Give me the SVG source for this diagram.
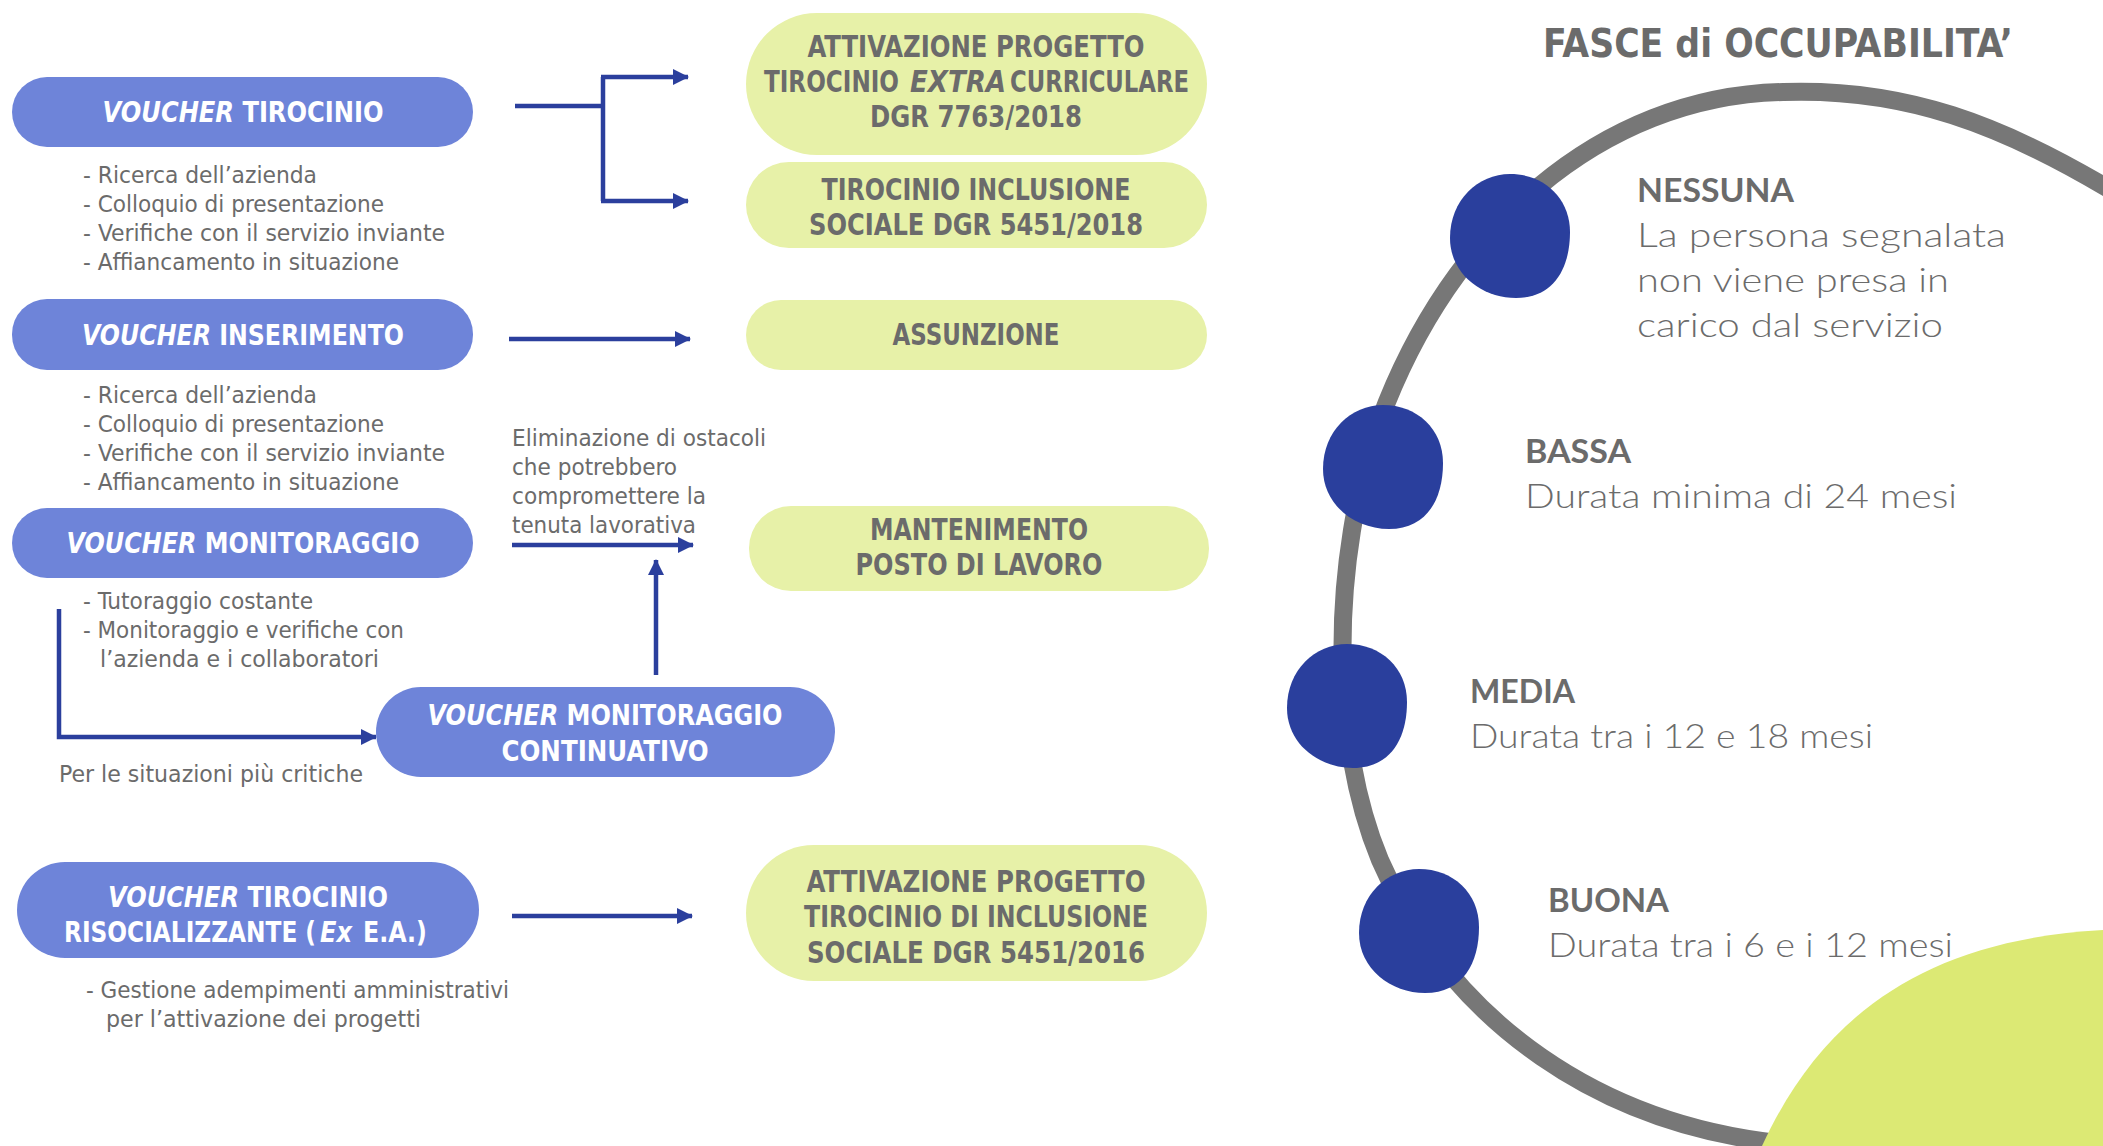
<svg xmlns="http://www.w3.org/2000/svg" width="2103" height="1146" viewBox="0 0 2103 1146">
<style>
.bp{fill:#6E84D9}
.gp{fill:#E7F1A8}
.wt{fill:#FFFFFF;font-family:"DejaVu Sans Condensed","DejaVu Sans",sans-serif;font-weight:bold;font-size:29px;text-anchor:middle}
.ws{fill:#FFFFFF;font-family:"DejaVu Sans Condensed","DejaVu Sans",sans-serif;font-weight:bold;font-size:29px}
.gt{fill:#6B6B6B;font-family:"DejaVu Sans Condensed","DejaVu Sans",sans-serif;font-weight:bold;font-size:30px;text-anchor:middle}
.gs{fill:#6B6B6B;font-family:"DejaVu Sans Condensed","DejaVu Sans",sans-serif;font-weight:bold;font-size:30px}
.it{font-style:italic}
.bl{fill:#6B6B6B;font-family:"DejaVu Sans Condensed","DejaVu Sans",sans-serif;font-size:23px}
.conn{fill:none;stroke:#2B3F9D;stroke-width:4.5}
.hd{fill:#6B6B6B;font-family:Lato,"Open Sans",sans-serif;font-weight:bold;font-size:32px}
.ds{fill:#6B6B6B;font-family:Lato,"Open Sans",sans-serif;font-weight:300;font-size:33px}
.dot{fill:#2A3F9D}
</style>
<defs>
<marker id="ah" markerUnits="userSpaceOnUse" markerWidth="16" markerHeight="16" refX="15" refY="8" orient="auto">
<path d="M0,0 L16,8 L0,16 Z" fill="#2B3F9D"/>
</marker>
<path id="blob" d="M0,-62 C34,-62 60,-38 60,-4 C60,32 44,62 6,62 C-28,62 -60,38 -60,2 C-60,-36 -32,-62 0,-62 Z"/>
</defs>
<rect width="2103" height="1146" fill="#FFFFFF"/>

<g id="arc">
<path d="M2135 205 C2000 120,1900 88,1783 92 C1600 96,1450 230,1380 420 C1330 560,1330 740,1380 860 C1450 1020,1600 1130,1800 1145" fill="none" stroke="#777777" stroke-width="18"/>
<path d="M1762 1146 C1820 1020,1920 940,2103 930 L2103 1146 Z" fill="#DCE974"/>
</g>

<text id="title" x="1543" y="57" class="gs" style="font-size:39px" textLength="470" lengthAdjust="spacingAndGlyphs">FASCE di OCCUPABILITA’</text>

<g id="nessuna">
<use href="#blob" transform="translate(1510,236)" class="dot"/>
<text x="1637" y="202" class="hd" textLength="157" lengthAdjust="spacingAndGlyphs">NESSUNA</text>
<text x="1637" y="247" class="ds" textLength="369" lengthAdjust="spacingAndGlyphs">La persona segnalata</text>
<text x="1637" y="292" class="ds" textLength="312" lengthAdjust="spacingAndGlyphs">non viene presa in</text>
<text x="1637" y="337" class="ds" textLength="306" lengthAdjust="spacingAndGlyphs">carico dal servizio</text>
</g>
<g id="bassa">
<use href="#blob" transform="translate(1383,467)" class="dot"/>
<text x="1525" y="463" class="hd" textLength="106" lengthAdjust="spacingAndGlyphs">BASSA</text>
<text x="1525" y="508" class="ds" textLength="432" lengthAdjust="spacingAndGlyphs">Durata minima di 24 mesi</text>
</g>
<g id="media">
<use href="#blob" transform="translate(1347,706)" class="dot"/>
<text x="1470" y="703" class="hd" textLength="105" lengthAdjust="spacingAndGlyphs">MEDIA</text>
<text x="1470" y="748" class="ds" textLength="403" lengthAdjust="spacingAndGlyphs">Durata tra i 12 e 18 mesi</text>
</g>
<g id="buona">
<use href="#blob" transform="translate(1419,931)" class="dot"/>
<text x="1548" y="912" class="hd" textLength="121" lengthAdjust="spacingAndGlyphs">BUONA</text>
<text x="1548" y="957" class="ds" textLength="405" lengthAdjust="spacingAndGlyphs">Durata tra i 6 e i 12 mesi</text>
</g>

<g id="connectors">
<path class="conn" d="M515 106 H603"/>
<path class="conn" d="M603 77 V201"/>
<path class="conn" d="M601 77 H688" marker-end="url(#ah)"/>
<path class="conn" d="M601 201 H688" marker-end="url(#ah)"/>
<path class="conn" d="M509 339 H690" marker-end="url(#ah)"/>
<path class="conn" d="M512 545 H693" marker-end="url(#ah)"/>
<path class="conn" d="M656 675 V560" marker-end="url(#ah)"/>
<path class="conn" d="M59 609 V737 H376" marker-end="url(#ah)"/>
<path class="conn" d="M512 916 H692" marker-end="url(#ah)"/>
</g>

<g id="voucher-tirocinio">
<rect class="bp" x="12" y="77" width="461" height="70" rx="35"/>
<text class="wt" x="243" y="122" textLength="281" lengthAdjust="spacingAndGlyphs"><tspan class="it">VOUCHER</tspan> TIROCINIO</text>
<text class="bl" x="83" y="183" textLength="234" lengthAdjust="spacingAndGlyphs">- Ricerca dell’azienda</text>
<text class="bl" x="83" y="212" textLength="301" lengthAdjust="spacingAndGlyphs">- Colloquio di presentazione</text>
<text class="bl" x="83" y="241" textLength="362" lengthAdjust="spacingAndGlyphs">- Verifiche con il servizio inviante</text>
<text class="bl" x="83" y="270" textLength="316" lengthAdjust="spacingAndGlyphs">- Affiancamento in situazione</text>
</g>
<g id="voucher-inserimento">
<rect class="bp" x="12" y="299" width="461" height="71" rx="35"/>
<text class="wt" x="243" y="345" textLength="322" lengthAdjust="spacingAndGlyphs"><tspan class="it">VOUCHER</tspan> INSERIMENTO</text>
<text class="bl" x="83" y="403" textLength="234" lengthAdjust="spacingAndGlyphs">- Ricerca dell’azienda</text>
<text class="bl" x="83" y="432" textLength="301" lengthAdjust="spacingAndGlyphs">- Colloquio di presentazione</text>
<text class="bl" x="83" y="461" textLength="362" lengthAdjust="spacingAndGlyphs">- Verifiche con il servizio inviante</text>
<text class="bl" x="83" y="490" textLength="316" lengthAdjust="spacingAndGlyphs">- Affiancamento in situazione</text>
</g>
<g id="voucher-monitoraggio">
<rect class="bp" x="12" y="508" width="461" height="70" rx="35"/>
<text class="wt" x="243" y="553" textLength="353" lengthAdjust="spacingAndGlyphs"><tspan class="it">VOUCHER</tspan> MONITORAGGIO</text>
<text class="bl" x="83" y="609" textLength="230" lengthAdjust="spacingAndGlyphs">- Tutoraggio costante</text>
<text class="bl" x="83" y="638" textLength="321" lengthAdjust="spacingAndGlyphs">- Monitoraggio e verifiche con</text>
<text class="bl" x="100" y="667" textLength="279" lengthAdjust="spacingAndGlyphs">l’azienda e i collaboratori</text>
<text class="bl" x="59" y="782" textLength="304" lengthAdjust="spacingAndGlyphs">Per le situazioni più critiche</text>
<text class="bl" x="512" y="446" textLength="254" lengthAdjust="spacingAndGlyphs">Eliminazione di ostacoli</text>
<text class="bl" x="512" y="475" textLength="165" lengthAdjust="spacingAndGlyphs">che potrebbero</text>
<text class="bl" x="512" y="504" textLength="194" lengthAdjust="spacingAndGlyphs">compromettere la</text>
<text class="bl" x="512" y="533" textLength="184" lengthAdjust="spacingAndGlyphs">tenuta lavorativa</text>
</g>
<g id="voucher-monitoraggio-continuativo">
<rect class="bp" x="376" y="687" width="459" height="90" rx="45"/>
<text class="wt" x="605" y="725" textLength="355" lengthAdjust="spacingAndGlyphs"><tspan class="it">VOUCHER</tspan> MONITORAGGIO</text>
<text class="wt" x="605" y="761" textLength="207" lengthAdjust="spacingAndGlyphs">CONTINUATIVO</text>
</g>
<g id="voucher-risocializzante">
<rect class="bp" x="17" y="862" width="462" height="96" rx="48"/>
<text class="wt" x="248" y="907" textLength="280" lengthAdjust="spacingAndGlyphs"><tspan class="it">VOUCHER</tspan> TIROCINIO</text>
<text class="ws" transform="translate(64,942) scale(0.8,1)" x="0" y="0" textLength="315" lengthAdjust="spacingAndGlyphs">RISOCIALIZZANTE (</text>
<text class="ws it" transform="translate(320,942) scale(0.85,1)" x="0" y="0" textLength="37.6" lengthAdjust="spacingAndGlyphs">Ex</text>
<text class="ws" transform="translate(363,942) scale(0.88,1)" x="0" y="0" textLength="72.7" lengthAdjust="spacingAndGlyphs">E.A.)</text>
<text class="bl" x="86" y="998" textLength="423" lengthAdjust="spacingAndGlyphs">- Gestione adempimenti amministrativi</text>
<text class="bl" x="106" y="1027" textLength="315" lengthAdjust="spacingAndGlyphs">per l’attivazione dei progetti</text>
</g>

<g id="attivazione-extracurriculare">
<rect class="gp" x="746" y="13" width="461" height="142" rx="71"/>
<text class="gt" x="976" y="57" textLength="337" lengthAdjust="spacingAndGlyphs">ATTIVAZIONE PROGETTO</text>
<text class="gs" transform="translate(764,92) scale(0.84,1)" x="0" y="0" textLength="160.7" lengthAdjust="spacingAndGlyphs">TIROCINIO</text>
<text class="gs it" transform="translate(910,92) scale(0.93,1)" x="0" y="0" textLength="103.2" lengthAdjust="spacingAndGlyphs">EXTRA</text>
<text class="gs" transform="translate(1010,92) scale(0.83,1)" x="0" y="0" textLength="215.7" lengthAdjust="spacingAndGlyphs">CURRICULARE</text>
<text class="gt" x="976" y="127" textLength="212" lengthAdjust="spacingAndGlyphs">DGR 7763/2018</text>
</g>
<g id="tirocinio-inclusione">
<rect class="gp" x="746" y="162" width="461" height="86" rx="43"/>
<text class="gt" x="976" y="200" textLength="309" lengthAdjust="spacingAndGlyphs">TIROCINIO INCLUSIONE</text>
<text class="gt" x="976" y="235" textLength="334" lengthAdjust="spacingAndGlyphs">SOCIALE DGR 5451/2018</text>
</g>
<g id="assunzione">
<rect class="gp" x="746" y="300" width="461" height="70" rx="35"/>
<text class="gt" x="976" y="345" textLength="167" lengthAdjust="spacingAndGlyphs">ASSUNZIONE</text>
</g>
<g id="mantenimento">
<rect class="gp" x="749" y="506" width="460" height="85" rx="42"/>
<text class="gt" x="979" y="540" textLength="218" lengthAdjust="spacingAndGlyphs">MANTENIMENTO</text>
<text class="gt" x="979" y="575" textLength="247" lengthAdjust="spacingAndGlyphs">POSTO DI LAVORO</text>
</g>
<g id="attivazione-inclusione">
<rect class="gp" x="746" y="845" width="461" height="136" rx="68"/>
<text class="gt" x="976" y="892" textLength="339" lengthAdjust="spacingAndGlyphs">ATTIVAZIONE PROGETTO</text>
<text class="gt" x="976" y="927" textLength="344" lengthAdjust="spacingAndGlyphs">TIROCINIO DI INCLUSIONE</text>
<text class="gt" x="976" y="963" textLength="338" lengthAdjust="spacingAndGlyphs">SOCIALE DGR 5451/2016</text>
</g>
</svg>
